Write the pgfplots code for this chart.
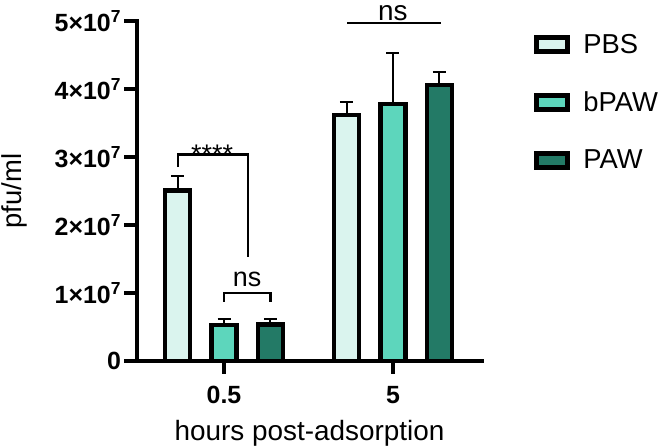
\documentclass[border=0pt]{standalone}
\usepackage{fontspec}
\setmainfont{Liberation Sans}
\usepackage{pgfplots}
\pgfplotsset{compat=1.18}
\definecolor{pbs}{HTML}{DAF4EE}
\definecolor{bpaw}{HTML}{5DD6BC}
\definecolor{paw}{HTML}{237A66}
\begin{document}
\begin{tikzpicture}
\useasboundingbox (-137bp,-86bp) rectangle (531bp,361bp);
\begin{axis}[
  scale only axis,
  width=345bp, height=340bp,
  xmin=-0.515, xmax=1.527,
  ymin=0, ymax=5e7,
  clip=false,
  axis x line=bottom, axis y line=left,
  axis line style={-, line width=4bp, black, line cap=rect},
  tick align=outside,
  major tick length=12.5bp,
  tick style={line width=3.5bp, black},
  xtick={0,1}, xticklabels={0.5,5},
  ytick={0,1e7,2e7,3e7,4e7,5e7},
  yticklabels={0,1×10\textsuperscript{7},2×10\textsuperscript{7},3×10\textsuperscript{7},4×10\textsuperscript{7},5×10\textsuperscript{7}},
  ticklabel style={font=\fontsize{25}{30}\selectfont\bfseries},
  xticklabel style={yshift=-9bp},
  scaled y ticks=false,
  xlabel={hours post-adsorption},
  ylabel={pfu/ml},
  xlabel style={font=\fontsize{28}{32}\selectfont, at={(axis description cs:0.5,0)}, anchor=center, yshift=-72.5bp},
  ylabel style={font=\fontsize{27.5}{32}\selectfont, at={(axis description cs:0,0.5)}, anchor=center, yshift=123bp},
  legend style={at={(1.151,0.962)}, anchor=north west, draw=none, fill=none, inner sep=0pt,
    font=\fontsize{27.5}{32}\selectfont, row sep=37bp,
    nodes={inner sep=0pt, anchor=west}},
  legend cell align=left,
  legend image code/.code={\draw[#1, line width=5bp] (2.5bp,-7bp) rectangle (33.5bp,7bp); \path[draw=none, fill=none] (0,0) -- (49bp,0);},
  every axis plot/.append style={ybar, bar width=25bp, bar shift=0pt, draw=black, line width=4.5bp},
]
\addplot[fill=pbs, error bars/.cd, y dir=plus, y explicit,
  error bar style={line width=2bp, black}, error mark options={rotate=90, line width=2bp, black, mark size=6.5bp}]
  coordinates {(-0.275,2.51e7) +- (0,0.21e7) (0.725,3.62e7) +- (0,0.19e7)};
\addlegendentry{PBS}
\addplot[fill=bpaw, error bars/.cd, y dir=plus, y explicit,
  error bar style={line width=2bp, black}, error mark options={rotate=90, line width=2bp, black, mark size=6.5bp}]
  coordinates {(0,0.53e7) +- (0,0.09e7) (1,3.78e7) +- (0,0.75e7)};
\addlegendentry{bPAW}
\addplot[fill=paw, error bars/.cd, y dir=plus, y explicit,
  error bar style={line width=2bp, black}, error mark options={rotate=90, line width=2bp, black, mark size=6.5bp}]
  coordinates {(0.275,0.54e7) +- (0,0.08e7) (1.275,4.06e7) +- (0,0.19e7)};
\addlegendentry{PAW}
% significance brackets
\draw[line width=2.5bp] (axis cs:-0.272,2.85e7) -- (axis cs:-0.272,3.04e7) -- (axis cs:0.142,3.04e7) -- (axis cs:0.142,1.53e7);
\node[anchor=base, font=\fontsize{27}{30}\selectfont, inner sep=0pt] at (axis cs:-0.07,2.91e7) {****};
\draw[line width=2.5bp] (axis cs:0,0.87e7) -- (axis cs:0,1.0e7) -- (axis cs:0.275,1.0e7) -- (axis cs:0.275,0.87e7);
\node[anchor=base, font=\fontsize{27}{30}\selectfont, inner sep=0pt] at (axis cs:0.137,1.09e7) {ns};
\draw[line width=2.5bp] (axis cs:0.728,4.97e7) -- (axis cs:1.284,4.97e7);
\node[anchor=base, font=\fontsize{28}{30}\selectfont, inner sep=0pt] at (axis cs:1.0,5.01e7) {ns};
\end{axis}
\end{tikzpicture}
\end{document}
